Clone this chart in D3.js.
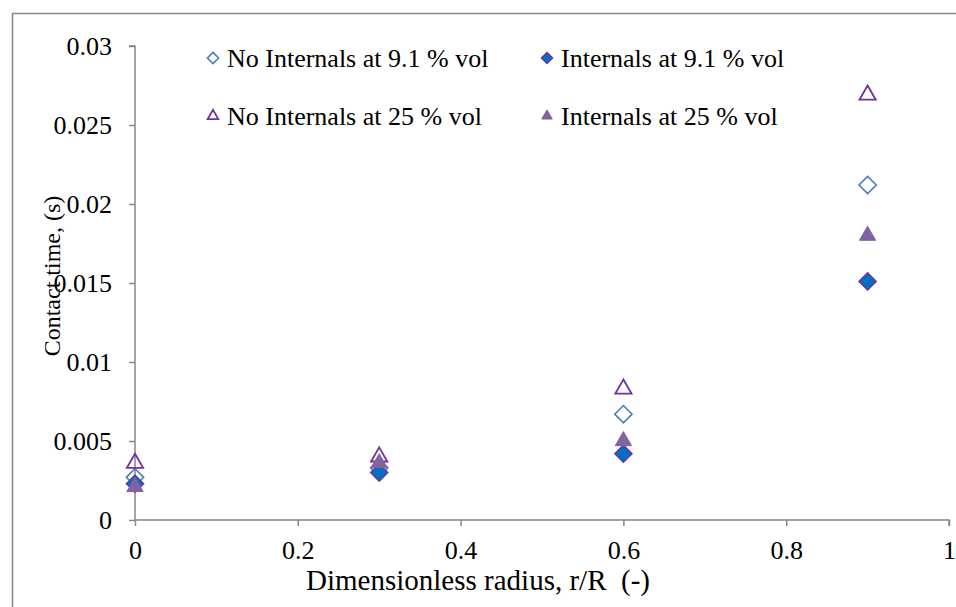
<!DOCTYPE html>
<html>
<head>
<meta charset="utf-8">
<script src="https://cdn.jsdelivr.net/npm/d3@7/dist/d3.min.js"></script>
<style>
  html, body { margin: 0; padding: 0; background: #fff; }
  svg { display: block; }
</style>
</head>
<body>
<svg id="chart" width="956" height="607"></svg>
<script>
// Radial positions (r/R)
const radius = [0, 0.3, 0.6, 0.9];

// Contact time (s) for each configuration
const noInternals91 = [0.0027, 0.0033, 0.0067, 0.0212];
const internals91   = [0.0023, 0.0030, 0.0042, 0.0151];
const noInternals25 = [0.0036, 0.0040, 0.0083, 0.0269];
const internals25   = [0.0021, 0.0036, 0.0050, 0.0180];

const seriesNames = [
  "No Internals at 9.1 % vol",
  "Internals at 9.1 % vol",
  "No Internals at 25 % vol",
  "Internals at 25 % vol"
];

const xTicks = [0, 0.2, 0.4, 0.6, 0.8, 1];
const yTicks = [0, 0.005, 0.01, 0.015, 0.02, 0.025, 0.03];

const series = [
  { name: seriesNames[0], values: noInternals91, shape: d3.symbolDiamond2, fill: "none", stroke: "#4a7ebb", sw: 1.6 },
  { name: seriesNames[1], values: internals91,   shape: d3.symbolDiamond2, fill: "#0070c0", stroke: "#7030a0", sw: 1.4 },
  { name: seriesNames[2], values: noInternals25, shape: d3.symbolTriangle2, fill: "none", stroke: "#7030a0", sw: 1.8 },
  { name: seriesNames[3], values: internals25,   shape: d3.symbolTriangle2, fill: "#8064a2", stroke: "#8064a2", sw: 1 }
];

const FONT = "Liberation Serif";
const tickFont = 26, yTitleFont = 24, xTitleFont = 29, legendFont = 26;
const axisColor = "#868686";

const svg = d3.select("#chart")
  .attr("font-family", FONT);

// Chart-area frame
svg.append("rect")
  .attr("x", 12.5).attr("y", 13.5)
  .attr("width", 980).attr("height", 640)
  .attr("fill", "none").attr("stroke", "#888").attr("stroke-width", 1.5);

const x = d3.scaleLinear().domain([0, 1]).range([135, 949]);
const y = d3.scaleLinear().domain([0, 0.03]).range([520, 46]);

// X axis
const xAxis = svg.append("g").attr("transform", "translate(0,520)")
  .call(d3.axisBottom(x).tickValues(xTicks).tickSize(6).tickPadding(0)
    .tickFormat(d => String(d)))
  .attr("font-family", FONT).attr("font-size", tickFont);
xAxis.select(".domain").attr("stroke", axisColor).attr("stroke-width", 1.5)
  .attr("d", "M135,0H949V6");
xAxis.selectAll(".tick line").attr("stroke", axisColor).attr("stroke-width", 1.5);
xAxis.selectAll(".tick text")
  .attr("y", 39).attr("dy", null).attr("fill", "#000");

// Y axis
const yAxis = svg.append("g").attr("transform", "translate(135,0)")
  .call(d3.axisLeft(y).tickValues(yTicks).tickSize(6).tickPadding(0)
    .tickFormat(d => String(+d.toFixed(3))))
  .attr("font-family", FONT).attr("font-size", tickFont);
yAxis.select(".domain").attr("stroke", axisColor).attr("stroke-width", 1.5)
  .attr("d", "M-6,46H0V520");
yAxis.selectAll(".tick line").attr("stroke", axisColor).attr("stroke-width", 1.5);
yAxis.selectAll(".tick text")
  .attr("x", -23).attr("dy", "0.33em").attr("fill", "#000");

// Axis titles
svg.append("text")
  .attr("x", 478).attr("y", 590)
  .attr("text-anchor", "middle")
  .attr("font-size", xTitleFont)
  .attr("xml:space", "preserve")
  .text("Dimensionless radius, r/R  (-)");

svg.append("text")
  .attr("transform", "translate(60,276) rotate(-90)")
  .attr("text-anchor", "middle")
  .attr("font-size", yTitleFont)
  .text("Contact time, (s)");

// Markers
const symbolSize = 190;
series.forEach(s => {
  svg.append("g").selectAll("path")
    .data(s.values.map((v, i) => [radius[i], v]))
    .join("path")
    .attr("transform", d => `translate(${x(d[0])},${y(d[1])})`)
    .attr("d", d3.symbol().type(s.shape).size(symbolSize))
    .attr("fill", s.fill).attr("stroke", s.stroke).attr("stroke-width", s.sw);
});

// Legend
const legendPos = [[213, 58], [547, 58], [213, 116], [547, 116]];
series.forEach((s, i) => {
  const [lx, ly] = legendPos[i];
  const g = svg.append("g").attr("transform", `translate(${lx},${ly})`);
  g.append("path")
    .attr("d", d3.symbol().type(s.shape).size(80))
    .attr("fill", s.fill).attr("stroke", s.stroke).attr("stroke-width", s.sw);
  g.append("text").attr("x", 14).attr("y", 9)
    .attr("font-size", legendFont)
    .text(s.name);
});
</script>
</body>
</html>
